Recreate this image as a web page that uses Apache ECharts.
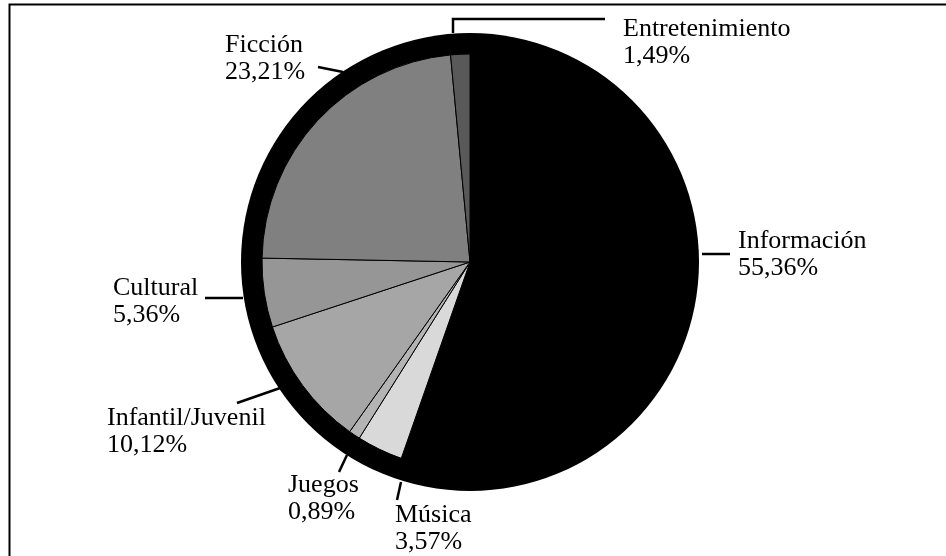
<!DOCTYPE html>
<html>
<head>
<meta charset="utf-8">
<script src="https://cdn.jsdelivr.net/npm/echarts@6/dist/echarts.min.js"></script>
<style>html,body{margin:0;padding:0;background:#fff}#c{width:946px;height:556px}</style>
</head>
<body>
<div id="c"></div>
<script>
// Data
var categories = ['Información', 'Música', 'Juegos', 'Infantil/Juvenil', 'Cultural', 'Ficción', 'Entretenimiento'];
var values = [55.36, 3.57, 0.89, 10.12, 5.36, 23.21, 1.49];
var valueLabels = ['55,36%', '3,57%', '0,89%', '10,12%', '5,36%', '23,21%', '1,49%'];

// Styling / layout (not data)
var sliceColors = ['#000000', '#d9d9d9', '#b4b4b4', '#a6a6a6', '#969696', '#808080', '#595959'];
var labelBoxes = [ [738, 228], [395, 502], [288, 472], [107, 405], [113, 275], [225, 32], [623, 16] ];
var labelLines = [
  [[702, 254], [730, 254]],
  [[401, 482], [397, 500]],
  [[347, 455], [339, 472]],
  [[283, 387], [237, 403]],
  [[243, 298], [205, 298]],
  [[343, 72], [318, 67]],
  [[453, 33], [453, 19], [605, 19]]
];

var chart = echarts.init(document.getElementById('c'), null, {renderer: 'canvas'});
var pieData = categories.map(function (c, i) {
  return { name: c, value: values[i], itemStyle: { color: sliceColors[i] } };
});

chart.setOption({
  backgroundColor: '#ffffff',
  animation: false,
  graphic: [{
    type: 'rect', left: 7, top: 2, silent: true,
    shape: { width: 1000, height: 700 },
    style: { fill: 'none', stroke: '#000', lineWidth: 2 }
  }],
  series: [{
    type: 'pie', silent: true, z: 1,
    center: [470, 262], radius: [0, 229],
    data: [{ name: 'ring', value: 1 }],
    itemStyle: { color: '#000', borderWidth: 0 },
    label: { show: false }, labelLine: { show: false }
  }, {
    type: 'pie', silent: true, z: 2,
    center: [470, 262], radius: [0, 208],
    startAngle: 90, clockwise: true,
    avoidLabelOverlap: false,
    data: pieData,
    itemStyle: { borderColor: '#000', borderWidth: 1 },
    label: {
      show: true, position: 'outside',
      fontFamily: 'Liberation Serif', fontSize: 26, lineHeight: 27, color: '#000',
      align: 'left',
      formatter: function (p) { return p.name + '\n' + valueLabels[p.dataIndex]; }
    },
    labelLine: { show: true, lineStyle: { color: '#000', width: 2.5 } },
    labelLayout: function (params) {
      var i = params.dataIndex;
      return {
        x: labelBoxes[i][0], y: labelBoxes[i][1],
        align: 'left', verticalAlign: 'top',
        hideOverlap: false, moveOverlap: null,
        labelLinePoints: labelLines[i]
      };
    }
  }]
});
</script>
</body>
</html>
